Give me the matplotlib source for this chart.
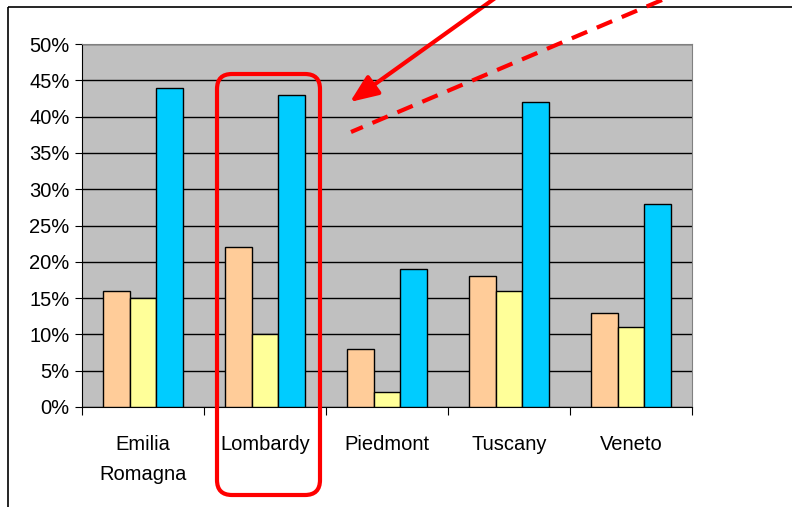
import matplotlib.pyplot as plt
import numpy as np
from matplotlib.patches import FancyBboxPatch, Rectangle
from matplotlib.ticker import FixedLocator, MultipleLocator
from matplotlib.transforms import Affine2D

regions = ['Emilia\nRomagna', 'Lombardy', 'Piedmont', 'Tuscany', 'Veneto']
series_a = [16, 22, 8, 18, 13]
series_b = [15, 10, 2, 16, 11]
series_c = [44, 43, 19, 42, 28]
colors = ['#FFCC99', '#FFFF99', '#00CCFF']

plt.rcParams['font.family'] = ['Liberation Sans Narrow', 'Liberation Sans', 'DejaVu Sans']

W, H = 792, 507
fig = plt.figure(figsize=(W / 100, H / 100), dpi=100)
ax = fig.add_axes([82 / W, 1 - 407 / H, 610 / W, 363 / H])
ax.set_facecolor('#C0C0C0')

x = np.arange(len(regions))
w = 0.22
for i, (vals, c) in enumerate(zip([series_a, series_b, series_c], colors)):
    ax.bar(x + (i - 1) * w, vals, w, color=c, edgecolor='black', linewidth=1, zorder=3)

ax.set_xlim(-0.5, len(regions) - 0.5)
ax.set_ylim(0, 50)
ax.yaxis.set_major_locator(MultipleLocator(5))
ax.set_yticklabels([f'{int(v)}%' for v in ax.get_yticks()])
ax.yaxis.grid(True, color='black', linewidth=1)
ax.set_axisbelow(True)
ax.tick_params(axis='y', labelsize=14.5, length=5, direction='out', pad=4)

ax.xaxis.set_major_locator(FixedLocator(np.arange(len(regions) + 1) - 0.5))
ax.xaxis.set_minor_locator(FixedLocator(x))
ax.set_xticklabels([], minor=False)
ax.set_xticklabels(regions, minor=True)
ax.tick_params(axis='x', which='major', length=6, direction='out')
ax.tick_params(axis='x', which='minor', length=0, labelsize=14.5, pad=20)
for lbl in ax.get_xticklabels(minor=True):
    lbl.set_linespacing(1.75)
    lbl.set_verticalalignment('top')

for s in ['top', 'right']:
    ax.spines[s].set_color('#808080')
ax.spines['left'].set_color('black')
ax.spines['bottom'].set_color('black')

# pixel transform (image coordinates, y downwards)
px = Affine2D().scale(1, -1).translate(0, H) + Affine2D().scale(fig.dpi / 100)

fig.patches.append(Rectangle((8, 7), 900, 600, transform=px, fill=False,
                             edgecolor='black', linewidth=1.2))

box = FancyBboxPatch((217, 74), 103, 421, boxstyle='round,pad=0,rounding_size=15',
                     transform=px, fill=False, edgecolor='red', linewidth=3)
fig.patches.append(box)

fig.add_artist(plt.Line2D([662, 351], [0, 132], transform=px, color='red',
                          linewidth=3, linestyle=(0, (4, 2.5))))
ax.annotate('', xy=(350, 102), xycoords=px, xytext=(498, -4), textcoords=px,
            arrowprops=dict(arrowstyle='-|>,head_length=1.7,head_width=0.7',
                            color='red', linewidth=3, shrinkA=0, shrinkB=0),
            annotation_clip=False)

fig.savefig('out.png', dpi=100)
